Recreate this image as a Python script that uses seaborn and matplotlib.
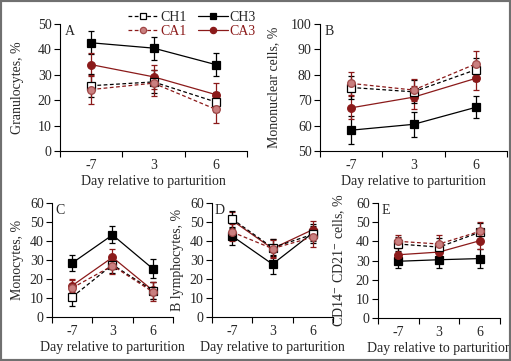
import numpy as np
import pandas as pd
import matplotlib
matplotlib.use("Agg")
import matplotlib.pyplot as plt
import seaborn as sns
from matplotlib.patches import Rectangle
from matplotlib.lines import Line2D

sns.set_style("white")
plt.rcParams['font.family'] = ['Liberation Serif', 'DejaVu Serif']
plt.rcParams['mathtext.fontset'] = 'stix'

days = ["-7", "3", "6"]
groups = ["CH1", "CH3", "CA1", "CA3"]

# Panel A: Granulocytes
gran = {"CH1": [25.7, 27.2, 19.3], "CH3": [42.6, 40.5, 34.0],
        "CA1": [24.2, 26.7, 16.4], "CA3": [34.0, 29.2, 22.2]}
gran_err = {"CH1": [4.5, 4.5, 4.0], "CH3": [4.5, 4.5, 4.5],
            "CA1": [5.8, 5.2, 5.5], "CA3": [4.5, 4.8, 4.5]}
# Panel B: Mononuclear cells
mono = {"CH1": [75.0, 73.3, 82.0], "CH3": [58.2, 60.5, 67.2],
        "CA1": [76.6, 74.0, 84.3], "CA3": [67.0, 71.2, 78.6]}
mono_err = {"CH1": [4.5, 4.5, 4.5], "CH3": [5.5, 5.0, 4.3],
            "CA1": [4.5, 4.5, 5.2], "CA3": [4.5, 4.5, 4.5]}
# Panel C: Monocytes
monoc = {"CH1": [10.5, 27.5, 13.9], "CH3": [28.4, 43.2, 25.4],
         "CA1": [15.3, 27.0, 13.2], "CA3": [16.5, 31.4, 14.0]}
monoc_err = {"CH1": [4.5, 4.5, 4.5], "CH3": [4.0, 4.5, 5.0],
             "CA1": [4.0, 4.5, 5.0], "CA3": [3.5, 4.5, 4.5]}
# Panel D: B lymphocytes
blym = {"CH1": [51.6, 36.5, 43.5], "CH3": [42.6, 27.8, 44.3],
        "CA1": [44.7, 36.0, 42.0], "CA3": [50.8, 36.0, 46.0]}
blym_err = {"CH1": [4.0, 4.5, 4.5], "CH3": [4.5, 5.0, 4.5],
            "CA1": [4.5, 4.5, 5.0], "CA3": [4.5, 5.0, 4.5]}
# Panel E: CD14- CD21- cells
cd = {"CH1": [38.6, 37.0, 44.7], "CH3": [29.6, 30.4, 31.0],
      "CA1": [40.0, 38.6, 45.2], "CA3": [33.0, 34.4, 40.3]}
cd_err = {"CH1": [3.5, 4.5, 5.0], "CH3": [3.5, 4.5, 5.0],
          "CA1": [3.5, 4.5, 5.0], "CA3": [3.5, 4.0, 4.5]}

dark_red = "#8B1A1A"
styles = {
    "CH1": dict(color="black", ls=(0, (3, 2)), marker="s", mfc="white", mec="black", ms=5.5, zorder=3),
    "CH3": dict(color="black", ls="-", marker="s", mfc="black", mec="black", ms=6, zorder=3),
    "CA1": dict(color=dark_red, ls=(0, (3, 2)), marker="o", mfc="#C97F7F", mec="#A04848", ms=5.5, zorder=3),
    "CA3": dict(color=dark_red, ls="-", marker="o", mfc=dark_red, mec=dark_red, ms=5.5, zorder=3),
}
draw_order = ["CH3", "CA3", "CH1", "CA1"]

W, H = 511, 361
fig = plt.figure(figsize=(W / 100, H / 100), dpi=100)

def ax_at(l, r, t, b):
    return fig.add_axes([l / W, 1 - b / H, (r - l) / W, (b - t) / H])

panels = [
    (ax_at(60, 247, 24, 151), gran, gran_err, "Granulocytes, %", (0, 50), "A", 10),
    (ax_at(320, 507, 24, 151), mono, mono_err, "Mononuclear cells, %", (50, 100), "B", 8),
    (ax_at(52, 173, 203, 317), monoc, monoc_err, "Monocytes, %", (0, 60), "C", 4),
    (ax_at(212, 333, 203, 317), blym, blym_err, "B lymphocytes, %", (0, 60), "D", 4),
    (ax_at(378, 500, 203, 318), cd, cd_err, r"CD14$^{-}$ CD21$^{-}$ cells, %", (0, 60), "E", 6),
]

fs = 10
for ax, vals, errs, ylab, ylim, letter, lpad in panels:
    rows = []
    for g in groups:
        for i, d in enumerate(days):
            rows.append({"group": g, "pos": i, "day": d, "value": vals[g][i], "err": errs[g][i]})
    df = pd.DataFrame(rows)
    for g in draw_order:
        sub = df[df.group == g]
        st = styles[g]
        ax.errorbar(sub["pos"], sub["value"], yerr=sub["err"], fmt="none",
                    ecolor=st["color"], elinewidth=0.9, capsize=2.5, capthick=0.9, zorder=2)
        sns.lineplot(data=sub, x="pos", y="value", ax=ax, color=st["color"],
                     linestyle=st["ls"], linewidth=0.9, marker=st["marker"],
                     markerfacecolor=st["mfc"], markeredgecolor=st["mec"],
                     markersize=st["ms"], markeredgewidth=0.9, zorder=st["zorder"],
                     errorbar=None, legend=False)
    ax.set_xlim(-0.5, 2.5)
    ax.set_ylim(*ylim)
    ax.set_yticks(np.arange(ylim[0], ylim[1] + 1, 10))
    ax.set_xticks([-0.5, 0.5, 1.5, 2.5])
    ax.set_xticklabels([])
    ax.set_xticks([0, 1, 2], minor=True)
    ax.set_xticklabels(days, minor=True)
    ax.tick_params(axis="x", which="major", direction="out", length=4, width=0.8, color="black", bottom=True)
    ax.tick_params(axis="x", which="minor", length=0, labelsize=fs, pad=6)
    ax.tick_params(axis="y", direction="out", length=4, width=0.8, color="black", left=True, labelsize=fs, pad=2)
    for sp in ["top", "right"]:
        ax.spines[sp].set_visible(False)
    for sp in ["left", "bottom"]:
        ax.spines[sp].set_color("black")
        ax.spines[sp].set_linewidth(0.8)
    ax.set_xlabel("Day relative to parturition", fontsize=fs, labelpad=2)
    ax.set_ylabel(ylab, fontsize=fs, labelpad=lpad)
    ax.text(0.025, 0.995, letter, transform=ax.transAxes, fontsize=fs, va="top", ha="left")
    ax.set_facecolor("white")

handles = []
for g in ["CH1", "CA1", "CH3", "CA3"]:
    st = styles[g]
    handles.append(Line2D([], [], color=st["color"], linestyle=st["ls"], linewidth=0.9,
                          marker=st["marker"], markerfacecolor=st["mfc"], markeredgecolor=st["mec"],
                          markersize=4.5, markeredgewidth=0.9, label=g))
leg = fig.legend(handles=handles, ncol=2, loc="upper center", bbox_to_anchor=(192 / W, 1 - 3 / H),
                 frameon=False, fontsize=fs, handlelength=2.2, handletextpad=0.1,
                 columnspacing=0.8, labelspacing=0.05, borderpad=0.1)
for t, g in zip(leg.get_texts(), ["CH1", "CA1", "CH3", "CA3"]):
    if g.startswith("CA"):
        t.set_color(dark_red)

fig.patches.append(Rectangle((0, 0), 1, 1, transform=fig.transFigure, fill=False,
                             edgecolor="#707070", linewidth=3, zorder=10))
fig.savefig("out.png", dpi=100)
